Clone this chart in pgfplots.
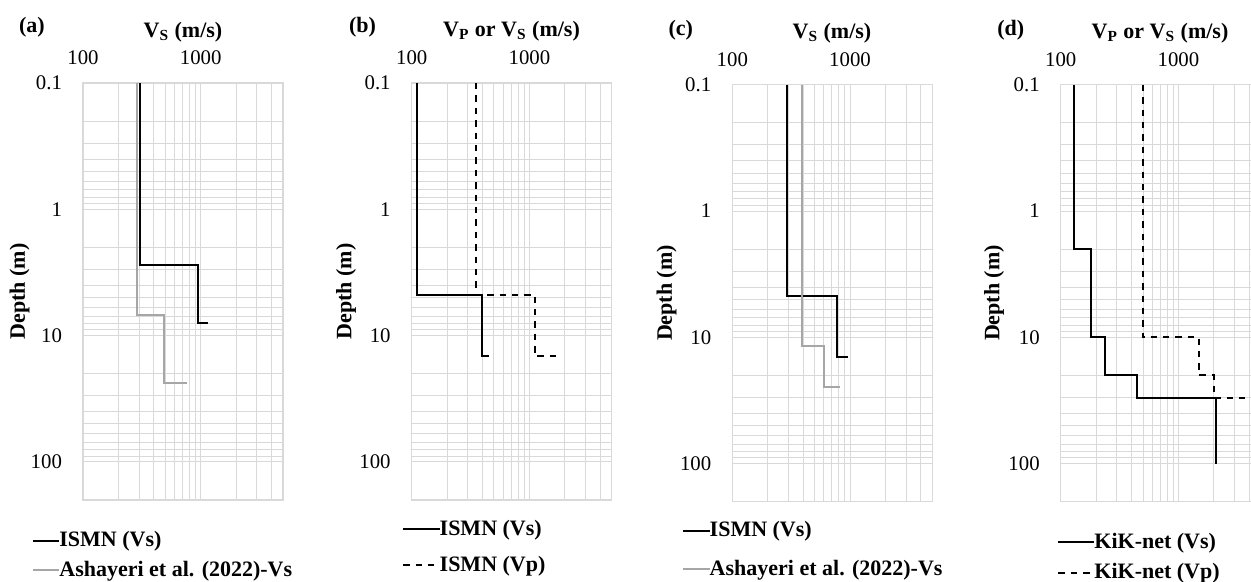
\documentclass[border=0pt]{standalone}
\usepackage{fontspec}
\setmainfont{Liberation Serif}
\usepackage{pgfplots}
\pgfplotsset{compat=1.18}

\definecolor{gridgray}{HTML}{D9D9D9}
\definecolor{refgray}{HTML}{A6A6A6}

\newcommand{\lblfont}{\fontsize{11}{13}\selectfont\bfseries}

% shared look of the four depth profiles
\pgfplotsset{every axis/.append style={
    scale only axis, width=100pt, height=208.5pt,
    xmin=100, xmax=5000, ymin=0.1, ymax=200,
    xtick={100,1000}, xticklabels={100,1000},
    minor xtick={200,300,400,500,600,700,800,900,2000,3000,4000,5000},
    ytick={0.1,1,10,100}, yticklabels={0.1,1,10,100},
    minor ytick={0.2,0.3,0.4,0.5,0.6,0.7,0.8,0.9,2,3,4,5,6,7,8,9,20,30,40,50,60,70,80,90,200},
    xticklabel pos=upper,
    grid=both,
    major grid style={gridgray, line width=0.5pt},
    minor grid style={gridgray, line width=0.5pt},
    axis line style={gridgray, line width=0.6pt},
    major tick length=0pt, minor tick length=0pt,
    tick label style={font=\fontsize{10.4}{12}\selectfont},
    xticklabel style={yshift=5.7pt},
    yticklabel style={xshift=-7pt},
    legend cell align=left,
    legend style={draw=none, fill=none, font=\lblfont, anchor=north west, inner sep=0pt,
      /tikz/every odd column/.append style={column sep=-2.5pt}},
}}

\begin{document}
\begin{tikzpicture}
\useasboundingbox (0,0) rectangle (625.5pt,-291pt);

% (a) ISMN against Ashayeri et al. (2022)
\begin{loglogaxis}[y dir=reverse, at={(41.5pt,-250pt)}, anchor=south west,
  legend image code/.code={\draw[#1] (0pt,0pt) -- (13pt,0pt);},
  legend style={at={(0,0)}, xshift=-25.5pt, yshift=-13.5pt, row sep=1.7pt}]
\addplot[black, line width=1pt] coordinates {(305,0.1) (305,2.75) (949,2.75) (949,8) (1155,8)};
\addlegendentry{ISMN (Vs)}
\addplot[refgray, line width=1pt] coordinates {(286,0.1) (286,6.85) (483,6.85) (483,23.7) (764,23.7)};
\addlegendentry{Ashayeri et al. (2022)-Vs}
\end{loglogaxis}

% (b) ISMN shear and compression wave profiles
\begin{loglogaxis}[y dir=reverse, at={(205.85pt,-250pt)}, anchor=south west,
  legend image code/.code={\draw[#1] (0pt,0pt) -- (18.3pt,0pt);},
  legend style={at={(0,0)}, xshift=-5pt, yshift=-7.8pt, row sep=5pt}]
\addplot[black, line width=1pt] coordinates {(111,0.1) (111,4.75) (393,4.75) (393,14.6) (454,14.6)};
\addlegendentry{ISMN (Vs)}
\addplot[black, line width=1pt, dash pattern=on 3.2pt off 3pt] coordinates {(351,0.1) (351,4.75) (1119,4.75) (1119,14.6) (1868,14.6)};
\addlegendentry{ISMN (Vp)}
\end{loglogaxis}

% (c) ISMN against Ashayeri et al. (2022)
\begin{loglogaxis}[y dir=reverse, at={(366.15pt,-250.85pt)}, anchor=south west,
  legend image code/.code={\draw[#1] (0pt,0pt) -- (13.3pt,0pt);},
  legend style={at={(0,0)}, xshift=-25.3pt, yshift=-7.8pt, row sep=5.9pt}]
\addplot[black, line width=1pt] coordinates {(292,0.1) (292,4.73) (774,4.73) (774,14.3) (968,14.3)};
\addlegendentry{ISMN (Vs)}
\addplot[refgray, line width=1pt] coordinates {(388,0.1) (388,11.8) (603,11.8) (603,24.5) (815,24.5)};
\addlegendentry{Ashayeri et al. (2022)-Vs}
\end{loglogaxis}

% (d) KiK-net shear and compression wave profiles
\begin{loglogaxis}[y dir=reverse, at={(530.35pt,-250.85pt)}, anchor=south west,
  legend image code/.code={\draw[#1] (0pt,0pt) -- (18pt,0pt);},
  legend style={at={(0,0)}, xshift=-1.85pt, yshift=-13.5pt, row sep=2pt}]
\addplot[black, line width=1pt] coordinates {(129,0.1) (129,2) (181,2) (181,10) (237,10) (237,20) (448,20) (448,30) (2089,30) (2089,100)};
\addlegendentry{KiK-net (Vs)}
\addplot[black, line width=1pt, dash pattern=on 3.2pt off 3pt] coordinates {(498,0.1) (498,10) (1494,10) (1494,20) (1995,20) (1995,30) (4500,30)};
\addlegendentry{KiK-net (Vp)}
\end{loglogaxis}

% panel letters, axis titles and depth labels
\node[font=\lblfont] at (16pt,-13.5pt) {(a)};
\node[font=\lblfont] at (181.25pt,-13.5pt) {(b)};
\node[font=\lblfont] at (340.35pt,-15pt) {(c)};
\node[font=\lblfont] at (505.35pt,-15pt) {(d)};

\node[font=\lblfont] at (91.5pt,-16pt) {V\textsubscript{S} (m/s)};
\node[font=\lblfont] at (255.75pt,-15.5pt) {V\textsubscript{P} or V\textsubscript{S} (m/s)};
\node[font=\lblfont] at (416pt,-16.5pt) {V\textsubscript{S} (m/s)};
\node[font=\lblfont] at (580pt,-16.5pt) {V\textsubscript{P} or V\textsubscript{S} (m/s)};

\node[font=\lblfont, rotate=90] at (9.75pt,-145.75pt) {Depth (m)};
\node[font=\lblfont, rotate=90] at (173pt,-145.75pt) {Depth (m)};
\node[font=\lblfont, rotate=90] at (333.3pt,-146.5pt) {Depth (m)};
\node[font=\lblfont, rotate=90] at (497pt,-146.5pt) {Depth (m)};
\end{tikzpicture}
\end{document}
